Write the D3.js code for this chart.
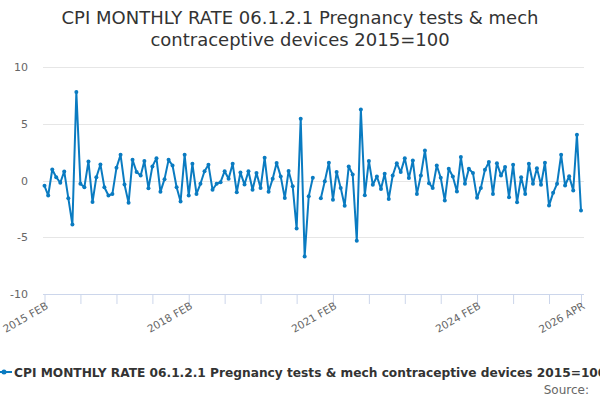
<!DOCTYPE html>
<html>
<head>
  <meta charset="utf-8">
  <script src="https://d3js.org/d3.v7.min.js"></script>
  <style>
    body {
      margin: 0;
      background-color: #fff;
      font-family: "DejaVu Sans", Verdana, sans-serif;
    }

    .grid line {
      stroke: #e6e6e6;
      stroke-width: 1px;
    }

    .series-line {
      fill: none;
      stroke: #0a7bc1;
      stroke-width: 2px;
    }

    .series-dot {
      fill: #0a7bc1;
    }
  </style>
</head>
<body>
  <div id="chart"></div>
  <script>
    // Chart text
    const titleLines = ["CPI MONTHLY RATE 06.1.2.1 Pregnancy tests & mech", "contraceptive devices 2015=100"];
    const seriesName = "CPI MONTHLY RATE 06.1.2.1 Pregnancy tests & mech contraceptive devices 2015=100";
    const sourceText = "Source:";

    // First and last month of the series (Feb 2015 .. Apr 2026)
    const firstMonth = "2015-02";
    const lastMonth = "2026-04";

    // Monthly rate, one value per month; null = no value published
    const values = [
      -0.47, -1.32, 0.97, 0.29, -0.2, 0.8, -1.56, -3.88, 7.8, -0.29, -0.59, 1.68,
      -1.9, 0.29, 1.41, -0.59, -1.32, -1.18, 1.12, 2.26, -0.35, -1.97, 1.82, 0.74,
      0.44, 1.71, -0.68, 1.24, 1.97, -1.0, 0.12, 1.82, 1.32, -0.59, -1.85, 2.26,
      -1.32, 1.47, -1.18, -0.29, 0.82, 1.38, -0.82, -0.29, -0.15, 0.82, 0.15, 1.47,
      -1.03, 0.7, -0.36, 0.81, -0.81, 0.66, -0.66, 2.0, -0.99, 0.15, 1.55, 0.36,
      -1.55, 0.84, -0.51, -4.24, 5.45, -6.7, -1.39, 0.24, null, -1.57, -0.06, 1.57,
      -1.69, 0.74, -0.65, -2.22, 1.24, 0.53, -5.3, 6.25, -1.3, 1.72, -0.38, 0.35,
      -0.74, 0.59, -1.62, 0.44, 1.53, 0.74, 1.97, 0.21, 1.76, -1.18, 0.44, 2.65,
      -0.24, -0.65, 1.32, 0.24, -1.76, 1.03, 0.35, -0.97, 2.06, -0.29, 1.03, 0.65,
      -1.53, -0.65, 0.94, 1.62, -1.18, 1.53, 0.44, 1.18, -1.47, 1.38, -1.91, 0.29,
      -1.18, 1.47, -0.29, 1.09, -0.38, 1.56, -2.21, -1.09, -0.29, 2.26, -0.44, 0.38,
      -0.88, 4.03, -2.65
    ];

    // Axis ticks
    const yTicks = [-10, -5, 0, 5, 10];
    const xTickStepMonths = 9;
    const xLabelMonths = ["2015-02", "2018-02", "2021-02", "2024-02", "2026-04"];

    // Layout
    const width = 600;
    const height = 400;
    const plot = { left: 44.5, right: 581, top: 67, bottom: 294 };

    const parseMonth = d3.utcParse("%Y-%m");
    const months = d3.utcMonth.range(parseMonth(firstMonth), d3.utcMonth.offset(parseMonth(lastMonth), 1));
    const data = months.map((date, i) => ({ date, value: values[i] }));

    const svg = d3.select("#chart")
      .append("svg")
      .attr("width", width)
      .attr("height", height);

    const x = d3.scaleUtc()
      .domain([parseMonth(firstMonth), parseMonth(lastMonth)])
      .range([plot.left, plot.right]);

    const y = d3.scaleLinear()
      .domain([-10, 10])
      .range([plot.bottom, plot.top]);

    // Title
    svg.append("g")
      .selectAll("text")
      .data(titleLines)
      .join("text")
      .attr("x", width / 2)
      .attr("y", (d, i) => 24 + i * 22)
      .attr("text-anchor", "middle")
      .style("font-size", "18px")
      .style("fill", "#333")
      .text(d => d);

    // Horizontal grid lines
    svg.append("g")
      .attr("class", "grid")
      .selectAll("line")
      .data(yTicks)
      .join("line")
      .attr("x1", 43)
      .attr("x2", 584)
      .attr("y1", d => Math.round(y(d)) + 0.5)
      .attr("y2", d => Math.round(y(d)) + 0.5);

    // Y axis labels
    const yAxis = d3.axisLeft(y)
      .tickValues(yTicks)
      .tickSize(0)
      .tickPadding(0)
      .tickFormat(d => String(d));

    svg.append("g")
      .attr("transform", `translate(28, 0)`)
      .call(yAxis)
      .call(g => g.select(".domain").remove())
      .selectAll("text")
      .style("font-family", "DejaVu Sans, sans-serif")
      .style("font-size", "11px")
      .style("fill", "#666");

    // X axis: a tick every 9 months plus the last month
    const tickDates = months.filter((d, i) => i % xTickStepMonths === 0);
    tickDates.push(parseMonth(lastMonth));
    const labelSet = new Set(xLabelMonths);
    const fmtKey = d3.utcFormat("%Y-%m");
    const fmtLabel = d3.utcFormat("%Y %b");

    const xAxis = d3.axisBottom(x)
      .tickValues(tickDates)
      .tickSize(10)
      .tickFormat(d => labelSet.has(fmtKey(d)) ? fmtLabel(d).toUpperCase() : "");

    const xg = svg.append("g")
      .attr("transform", `translate(0, ${plot.bottom})`)
      .call(xAxis);

    xg.select(".domain")
      .attr("d", `M43,0.5H584`)
      .style("stroke", "#ccd6eb");

    xg.selectAll(".tick line")
      .style("stroke", "#ccd6eb");

    xg.selectAll(".tick text")
      .attr("y", 0)
      .attr("dy", 0)
      .attr("text-anchor", "end")
      .attr("transform", "translate(4, 14) rotate(-30)")
      .style("font-family", "DejaVu Sans, sans-serif")
      .style("font-size", "10.5px")
      .style("fill", "#666");

    // Series line with gap for the missing month
    const line = d3.line()
      .defined(d => d.value !== null)
      .x(d => x(d.date))
      .y(d => y(d.value));

    svg.append("path")
      .datum(data)
      .attr("class", "series-line")
      .attr("stroke-linejoin", "round")
      .attr("d", line);

    svg.append("g")
      .selectAll("circle")
      .data(data.filter(d => d.value !== null))
      .join("circle")
      .attr("class", "series-dot")
      .attr("cx", d => x(d.date))
      .attr("cy", d => y(d.value))
      .attr("r", 2);

    // Legend
    const legend = svg.append("g")
      .attr("transform", "translate(0, 372)");

    legend.append("line")
      .attr("x1", -4)
      .attr("x2", 12)
      .attr("y1", 0)
      .attr("y2", 0)
      .style("stroke", "#0a7bc1")
      .style("stroke-width", 2);

    legend.append("circle")
      .attr("cx", 4)
      .attr("cy", 0)
      .attr("r", 2.5)
      .style("fill", "#0a7bc1");

    legend.append("text")
      .attr("x", 14)
      .attr("y", 5)
      .style("font-size", "12.2px")
      .style("font-weight", "bold")
      .style("fill", "#333")
      .text(seriesName);

    // Source
    svg.append("text")
      .attr("x", 589)
      .attr("y", 394)
      .attr("text-anchor", "end")
      .style("font-size", "12px")
      .style("fill", "#666")
      .text(sourceText);
  </script>
</body>
</html>
